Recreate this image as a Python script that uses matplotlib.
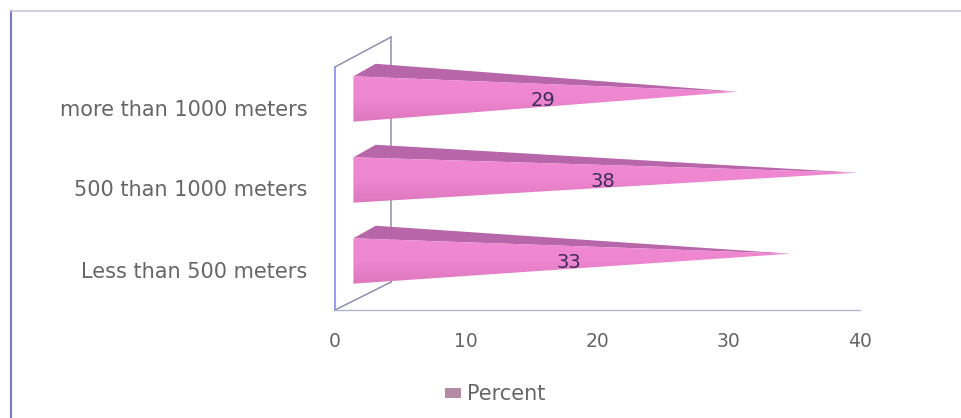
import matplotlib
matplotlib.use('Agg')
import matplotlib.pyplot as plt
import numpy as np
from matplotlib.colors import LinearSegmentedColormap
from matplotlib.patches import Polygon

categories = ['Less than 500 meters', '500 than 1000 meters', 'more than 1000 meters']
percent = [33, 38, 29]
x_ticks = [0, 10, 20, 30, 40]

W, H = 961, 418
TOP = '#b766a9'
WALL_BLUE = '#7f7ff0'
WALL_GREY = '#8f8fb0'
TEXT = '#666666'

# depth of the fake 3D view, in data units
DEPTH_X = 1.4      # front face starts this far from the wall
BACK_X = 3.1       # back corner of the bar's top face
BACK_Y = 0.155
LIFT = 0.105       # bars sit above the centre of their slot
HALF = 0.28
UNIT = 13.25 / 13.125  # bars run a little longer than the axis scale

front_cmap = LinearSegmentedColormap.from_list('front', ['#dd78bd', '#ee86d0', '#f088d2'])

fig = plt.figure(figsize=(W / 100, H / 100), dpi=100)
ax = fig.add_axes([335 / W, 1 - 310 / H, 525 / W, 243 / H])
ax.set_xlim(0, 40)
ax.set_ylim(-0.5, 2.5)
ax.patch.set_alpha(0)

for side in ['top', 'right', 'left']:
    ax.spines[side].set_visible(False)
ax.spines['bottom'].set_color('#b4b4cc')
ax.spines['bottom'].set_linewidth(1)

ax.set_xticks(x_ticks)
ax.set_yticks(range(len(categories)))
ax.set_yticklabels(categories)
ax.tick_params(axis='x', length=0, pad=16, labelsize=13.5, labelcolor=TEXT)
ax.tick_params(axis='y', length=0, pad=20, labelsize=15, labelcolor=TEXT)

# side wall outline, behind the bars
wall = dict(lw=1.1, clip_on=False, zorder=1)
ax.plot([0, 0], [-0.5, 2.5], color=WALL_BLUE, **wall)
ax.plot([4.27, 4.27], [-0.155, 2.87], color=WALL_GREY, **wall)
ax.plot([0, 4.27], [2.5, 2.87], color=WALL_GREY, **wall)
ax.plot([0, 4.27], [-0.5, -0.155], color=WALL_GREY, **wall)

gradient = np.linspace(0, 1, 64).reshape(-1, 1)

for i, value in enumerate(percent):
    y = i + LIFT
    tip_x = DEPTH_X + value * UNIT
    tip = (tip_x, y + 0.09)

    ax.add_patch(Polygon([(DEPTH_X, y + HALF), (BACK_X, y + HALF + BACK_Y), tip],
                         fc=TOP, ec='none', clip_on=False, zorder=2))

    # front face: vertical shading clipped to the wedge
    face = Polygon([(DEPTH_X, y - HALF), (DEPTH_X, y + HALF), tip], fc='none', ec='none',
                   transform=ax.transData)
    ax.add_patch(face)
    shade = ax.imshow(gradient, cmap=front_cmap, origin='lower', aspect='auto', zorder=3,
                      extent=[DEPTH_X, tip_x, y - HALF, y + HALF], clip_on=True)
    shade.set_clip_path(face)

    ax.text(DEPTH_X + value * UNIT / 2 - 0.2, y - 0.02, str(value), ha='center', va='center',
            fontsize=14, color='#3d2c5c', zorder=4)

ax.set_xlim(0, 40)
ax.set_ylim(-0.5, 2.5)

# legend below the axis
fig.patches.append(plt.Rectangle((445 / W, 1 - 398 / H), 16 / W, 10 / H, fc='#b58aa6', ec='none',
                                 transform=fig.transFigure))
fig.text(467 / W, 1 - 394 / H, 'Percent', fontsize=15, color=TEXT, va='center', ha='left')

# frame lines around the chart area
fig.add_artist(plt.Line2D([11 / W, 11 / W], [0, 1 - 11 / H], color='#7878cc', lw=1.5))
fig.add_artist(plt.Line2D([11 / W, 961 / W], [1 - 10.5 / H, 1 - 10.5 / H], color='#c8c8dc', lw=1.2))

fig.savefig('out.png', dpi=100)
